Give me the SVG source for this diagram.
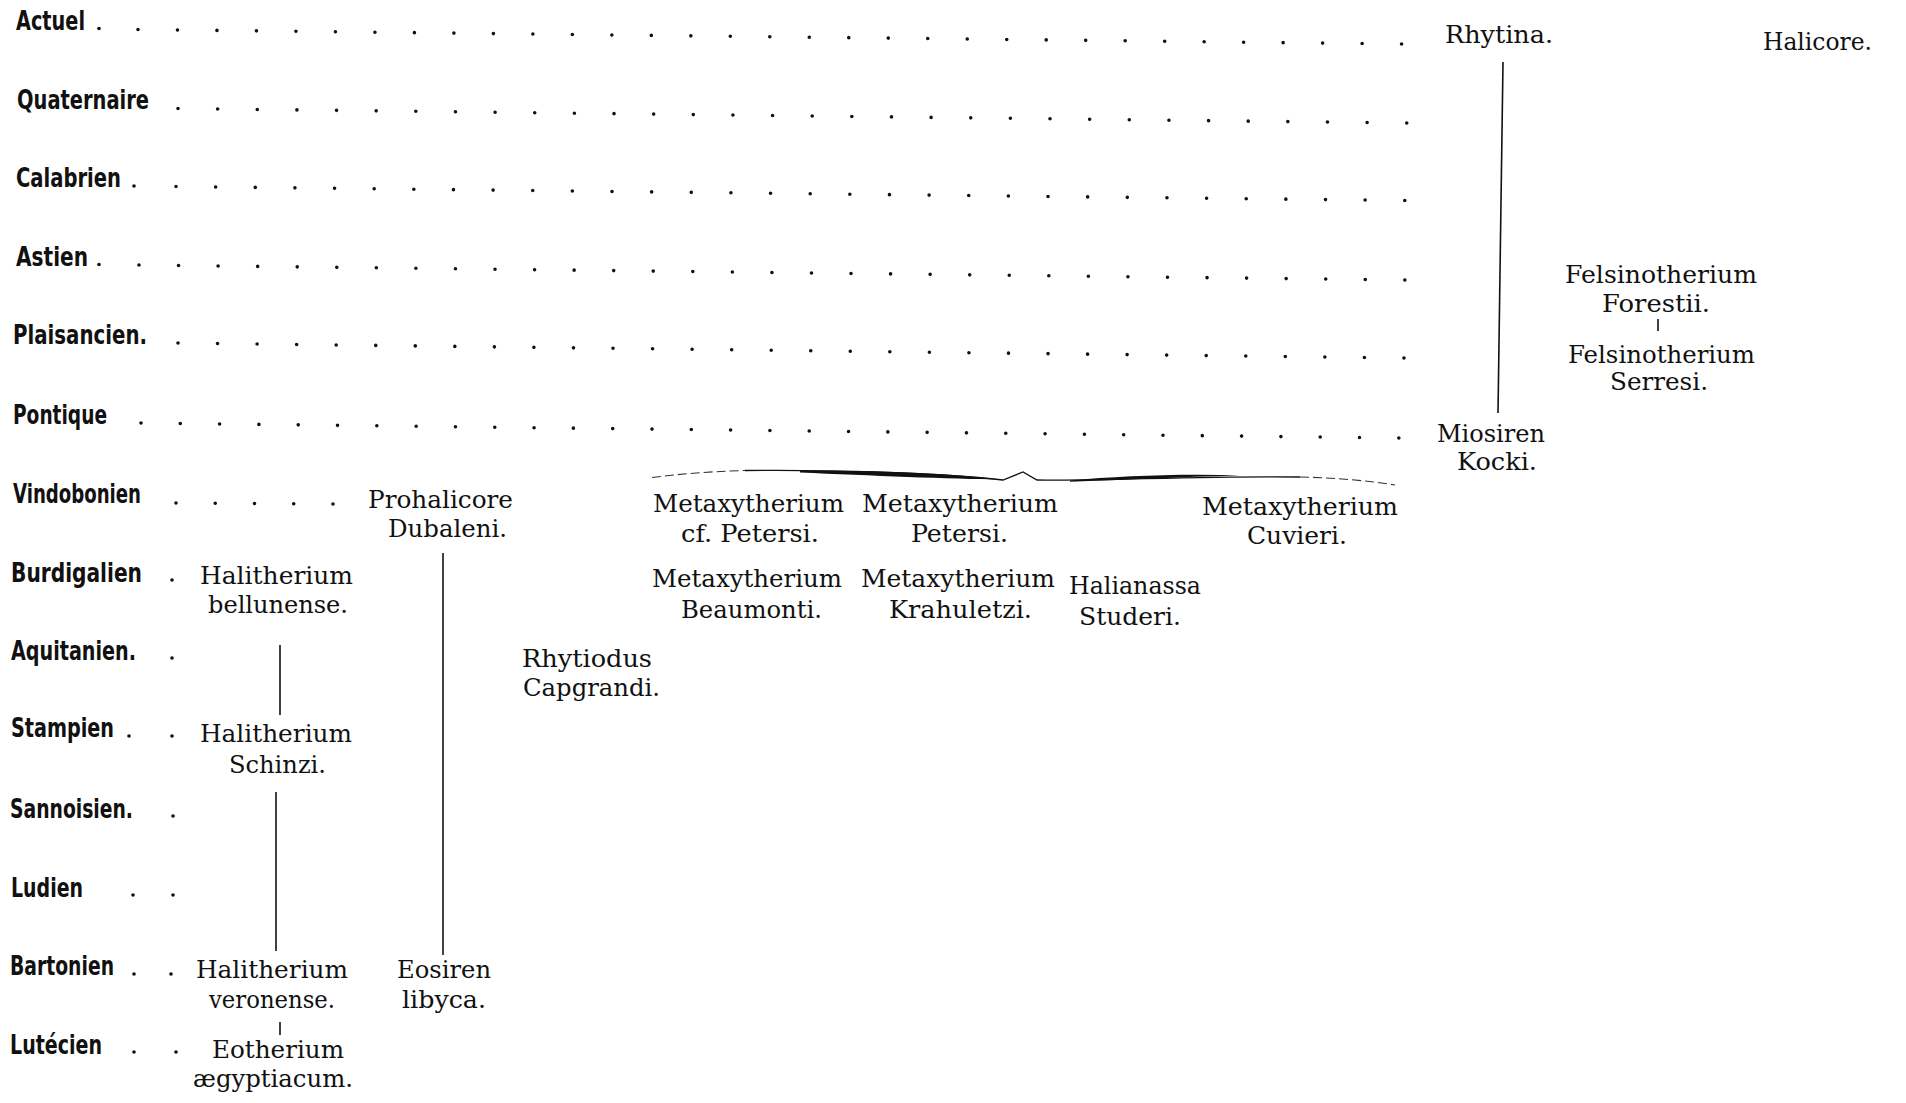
<svg xmlns="http://www.w3.org/2000/svg" width="1906" height="1103" viewBox="0 0 1906 1103">
<style>
.era{font-family:"Liberation Sans Narrow","DejaVu Sans Condensed","Liberation Sans",sans-serif;font-weight:bold;font-size:26.5px;fill:#111}
.sp{font-family:"DejaVu Serif","Liberation Serif",serif;font-size:24px;fill:#111}
.lead{stroke:#111;stroke-width:3.6;stroke-linecap:round;fill:none}
.dot{fill:#111}
.ln{stroke:#111;stroke-width:1.6;fill:none}
.br{stroke:#111;stroke-width:1.3;fill:none}
.brd{stroke:#333;stroke-width:1.1;fill:none;stroke-dasharray:9 4}
.brf{fill:#111}
</style>
<rect width="1906" height="1103" fill="#fff"/>

<g id="eras">
<g id="era-actuel"><text class="era" x="16" y="29.5" textLength="69" lengthAdjust="spacingAndGlyphs">Actuel</text></g>
<g id="era-quaternaire"><text class="era" x="17" y="108.5" textLength="132" lengthAdjust="spacingAndGlyphs">Quaternaire</text></g>
<g id="era-calabrien"><text class="era" x="16" y="187" textLength="105" lengthAdjust="spacingAndGlyphs">Calabrien</text></g>
<g id="era-astien"><text class="era" x="16" y="266" textLength="72" lengthAdjust="spacingAndGlyphs">Astien</text></g>
<g id="era-plaisancien"><text class="era" x="13" y="344" textLength="134" lengthAdjust="spacingAndGlyphs">Plaisancien.</text></g>
<g id="era-pontique"><text class="era" x="13" y="424" textLength="94" lengthAdjust="spacingAndGlyphs">Pontique</text></g>
<g id="era-vindobonien"><text class="era" x="13" y="503" textLength="128" lengthAdjust="spacingAndGlyphs">Vindobonien</text></g>
<g id="era-burdigalien"><text class="era" x="11" y="582" textLength="131" lengthAdjust="spacingAndGlyphs">Burdigalien</text></g>
<g id="era-aquitanien"><text class="era" x="11" y="660" textLength="125" lengthAdjust="spacingAndGlyphs">Aquitanien.</text></g>
<g id="era-stampien"><text class="era" x="11" y="737" textLength="103" lengthAdjust="spacingAndGlyphs">Stampien</text></g>
<g id="era-sannoisien"><text class="era" x="10" y="818" textLength="123" lengthAdjust="spacingAndGlyphs">Sannoisien.</text></g>
<g id="era-ludien"><text class="era" x="11" y="897" textLength="72" lengthAdjust="spacingAndGlyphs">Ludien</text></g>
<g id="era-bartonien"><text class="era" x="10" y="975" textLength="104" lengthAdjust="spacingAndGlyphs">Bartonien</text></g>
<g id="era-lutecien"><text class="era" x="10" y="1054" textLength="92" lengthAdjust="spacingAndGlyphs">Lutécien</text></g>
</g>

<g id="leaders">
<line class="lead" x1="138" y1="29.5" x2="1402" y2="44" stroke-dasharray="0 39.49"/>
<line class="lead" x1="178" y1="108.5" x2="1407" y2="123" stroke-dasharray="0 39.64"/>
<line class="lead" x1="176" y1="186.5" x2="1405" y2="200.5" stroke-dasharray="0 39.64"/>
<line class="lead" x1="139" y1="265" x2="1405" y2="280" stroke-dasharray="0 39.56"/>
<line class="lead" x1="178" y1="343" x2="1404" y2="358" stroke-dasharray="0 39.55"/>
<line class="lead" x1="141" y1="423" x2="1399" y2="438" stroke-dasharray="0 39.31"/>
<line class="lead" x1="176" y1="503" x2="333" y2="504" stroke-dasharray="0 39.24"/>
<circle class="dot" cx="99" cy="28.5" r="1.8"/>
<circle class="dot" cx="134" cy="186" r="1.8"/>
<circle class="dot" cx="99" cy="264.5" r="1.8"/>
<circle class="dot" cx="172" cy="580" r="1.8"/>
<circle class="dot" cx="172" cy="658" r="1.8"/>
<circle class="dot" cx="129" cy="736" r="1.8"/>
<circle class="dot" cx="172" cy="736" r="1.8"/>
<circle class="dot" cx="173" cy="816" r="1.8"/>
<circle class="dot" cx="133" cy="895" r="1.8"/>
<circle class="dot" cx="173" cy="895" r="1.8"/>
<circle class="dot" cx="134" cy="974" r="1.8"/>
<circle class="dot" cx="171" cy="974" r="1.8"/>
<circle class="dot" cx="134" cy="1052" r="1.8"/>
<circle class="dot" cx="176" cy="1052" r="1.8"/>
</g>

<g id="connectors">
<line class="ln" x1="280" y1="645" x2="280" y2="715"/>
<line class="ln" x1="276" y1="792" x2="276" y2="951"/>
<line class="ln" x1="280" y1="1022" x2="280" y2="1035"/>
<line class="ln" x1="443" y1="553" x2="443" y2="955"/>
<line class="ln" x1="1503" y1="62" x2="1498" y2="413"/>
<line class="ln" x1="1658" y1="319" x2="1658" y2="331"/>
<g id="brace">
<path class="brd" d="M652,477.5 C680,474 710,471.5 745,470.5"/>
<path class="br" d="M745,470.5 C830,469.5 940,473 1003,480 L1023,472 L1037,480 C1100,481.5 1200,475.5 1300,477"/>
<path class="brd" d="M1300,477 C1340,478 1370,481 1395,485"/>
<path class="brf" d="M800,471 C870,470 950,473.5 1001,479.5 C950,479 870,475.5 800,472.5 Z"/>
<path class="brf" d="M1070,480.5 C1120,476 1180,473.5 1240,475.5 C1180,477 1120,480 1070,481.8 Z"/>
</g>
</g>

<g id="n-rhytina"><text class="sp" x="1445" y="43" textLength="108" lengthAdjust="spacingAndGlyphs">Rhytina.</text></g>
<g id="n-halicore"><text class="sp" x="1763" y="50" textLength="109" lengthAdjust="spacingAndGlyphs">Halicore.</text></g>
<g id="n-felsino-forestii"><text class="sp" x="1565" y="283" textLength="192" lengthAdjust="spacingAndGlyphs">Felsinotherium</text><text class="sp" x="1602" y="312" textLength="108" lengthAdjust="spacingAndGlyphs">Forestii.</text></g>
<g id="n-felsino-serresi"><text class="sp" x="1568" y="363" textLength="187" lengthAdjust="spacingAndGlyphs">Felsinotherium</text><text class="sp" x="1610" y="390" textLength="98" lengthAdjust="spacingAndGlyphs">Serresi.</text></g>
<g id="n-miosiren"><text class="sp" x="1437" y="442" textLength="108" lengthAdjust="spacingAndGlyphs">Miosiren</text><text class="sp" x="1457" y="470" textLength="80" lengthAdjust="spacingAndGlyphs">Kocki.</text></g>
<g id="n-prohalicore"><text class="sp" x="368" y="508" textLength="145" lengthAdjust="spacingAndGlyphs">Prohalicore</text><text class="sp" x="388" y="537" textLength="119" lengthAdjust="spacingAndGlyphs">Dubaleni.</text></g>
<g id="n-meta-cfpetersi"><text class="sp" x="653" y="512" textLength="191" lengthAdjust="spacingAndGlyphs">Metaxytherium</text><text class="sp" x="681" y="542" textLength="138" lengthAdjust="spacingAndGlyphs">cf. Petersi.</text></g>
<g id="n-meta-petersi"><text class="sp" x="862" y="512" textLength="196" lengthAdjust="spacingAndGlyphs">Metaxytherium</text><text class="sp" x="911" y="542" textLength="97" lengthAdjust="spacingAndGlyphs">Petersi.</text></g>
<g id="n-meta-cuvieri"><text class="sp" x="1202" y="515" textLength="196" lengthAdjust="spacingAndGlyphs">Metaxytherium</text><text class="sp" x="1247" y="544" textLength="100" lengthAdjust="spacingAndGlyphs">Cuvieri.</text></g>
<g id="n-meta-beaumonti"><text class="sp" x="652" y="587" textLength="190" lengthAdjust="spacingAndGlyphs">Metaxytherium</text><text class="sp" x="681" y="618" textLength="141" lengthAdjust="spacingAndGlyphs">Beaumonti.</text></g>
<g id="n-meta-krahuletzi"><text class="sp" x="861" y="587" textLength="194" lengthAdjust="spacingAndGlyphs">Metaxytherium</text><text class="sp" x="889" y="618" textLength="143" lengthAdjust="spacingAndGlyphs">Krahuletzi.</text></g>
<g id="n-halianassa"><text class="sp" x="1069" y="594" textLength="132" lengthAdjust="spacingAndGlyphs">Halianassa</text><text class="sp" x="1079" y="625" textLength="102" lengthAdjust="spacingAndGlyphs">Studeri.</text></g>
<g id="n-hal-bellunense"><text class="sp" x="200" y="584" textLength="153" lengthAdjust="spacingAndGlyphs">Halitherium</text><text class="sp" x="208" y="613" textLength="140" lengthAdjust="spacingAndGlyphs">bellunense.</text></g>
<g id="n-hal-schinzi"><text class="sp" x="200" y="742" textLength="152" lengthAdjust="spacingAndGlyphs">Halitherium</text><text class="sp" x="229" y="773" textLength="97" lengthAdjust="spacingAndGlyphs">Schinzi.</text></g>
<g id="n-rhytiodus"><text class="sp" x="522" y="667" textLength="130" lengthAdjust="spacingAndGlyphs">Rhytiodus</text><text class="sp" x="523" y="696" textLength="137" lengthAdjust="spacingAndGlyphs">Capgrandi.</text></g>
<g id="n-hal-veronense"><text class="sp" x="196" y="978" textLength="152" lengthAdjust="spacingAndGlyphs">Halitherium</text><text class="sp" x="209" y="1008" textLength="126" lengthAdjust="spacingAndGlyphs">veronense.</text></g>
<g id="n-eotherium"><text class="sp" x="212" y="1058" textLength="132" lengthAdjust="spacingAndGlyphs">Eotherium</text><text class="sp" x="193" y="1087" textLength="160" lengthAdjust="spacingAndGlyphs">ægyptiacum.</text></g>
<g id="n-eosiren"><text class="sp" x="397" y="978" textLength="94" lengthAdjust="spacingAndGlyphs">Eosiren</text><text class="sp" x="402" y="1008" textLength="84" lengthAdjust="spacingAndGlyphs">libyca.</text></g>
</svg>
